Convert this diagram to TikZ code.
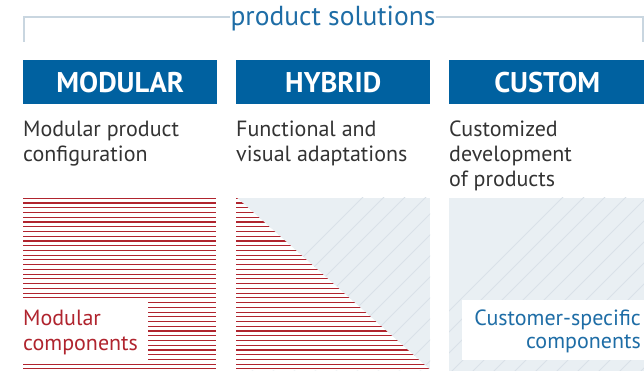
\documentclass[tikz,border=0pt]{standalone}
\usepackage{fontspec}
\setmainfont{PT Sans}
\definecolor{hblue}{HTML}{0061A0}
\definecolor{tblue}{HTML}{1E6DA6}
\definecolor{dred}{HTML}{B0242E}
\definecolor{txtgray}{HTML}{333333}
\definecolor{bgpale}{HTML}{E9EFF3}
\definecolor{stripe}{HTML}{D9E1E8}
\definecolor{brack}{HTML}{C9D6E0}
\tikzset{
  headbox/.style={fill=hblue, text=white, font=\bfseries\fontsize{28.5}{32}\selectfont, minimum width=194pt, minimum height=44pt, inner sep=0pt, anchor=north west},
  subtxt/.style={text=txtgray, font=\fontsize{22}{25}\selectfont, align=left, inner sep=0pt, anchor=base west},
  redline/.style={draw=dred, line width=1.1pt},
  stripeline/.style={draw=stripe, line width=1pt},
}
\begin{document}
\begin{tikzpicture}[x=1pt,y=-1pt]
\useasboundingbox (0,0) rectangle (644,371);
% bracket
\node[text=tblue, font=\fontsize{27.5}{30}\selectfont, inner sep=0pt] (title) at (333,19) {product solutions};
\coordinate (bl) at (24,42);
\coordinate (br) at (643,42);
\coordinate (blt) at (24,17);
\coordinate (brt) at (643,17);
\draw[brack, line width=1.4pt] (bl) -- (blt) -- (blt -| title.west);
\draw[brack, line width=1.4pt] (br) -- (brt) -- (brt -| title.east);
% header boxes
\node[headbox] (mod) at (23,60) {MODULAR};
\node[headbox] (hyb) at (236,60) {HYBRID};
\node[headbox, minimum width=196pt] (cus) at (449,60) {CUSTOM};
% subtitles (anchor = baseline of last line)
\node[subtxt] (s1) at (23,162) {Modular product\\configuration};
\node[subtxt] (s2) at (236,162) {Functional and\\visual adaptations};
\node[subtxt] (s3) at (449,187) {Customized\\development\\of products};
% panel 1
\foreach \i in {0,...,36}{
  \draw[redline] (23,198.3+4.74*\i) -- (216,198.3+4.74*\i);
}
\fill[white] (23,299.5) rectangle (148,361.5);
\node[subtxt, text=dred] (lab1) at (23,350) {Modular\\components};
% panel 2
\fill[bgpale] (236,198) rectangle (430,370);
\begin{scope}
\clip (236,198) rectangle (430,370);
\foreach \i in {0,...,22}{
  \draw[stripeline] (180+21*\i,380) -- (180+21*\i+200,180);
}
\end{scope}
\begin{scope}
\clip (236,197) -- (236,370.5) -- (431,370.5) -- cycle;
\fill[white] (236,197) -- (236,370.5) -- (431,370.5) -- cycle;
\foreach \i in {0,...,36}{
  \draw[redline] (236,198.3+4.74*\i) -- (430,198.3+4.74*\i);
}
\end{scope}
% panel 3
\fill[bgpale] (449,198) rectangle (644,371);
\begin{scope}
\clip (449,198) rectangle (644,371);
\foreach \i in {0,...,22}{
  \draw[stripeline] (380+21*\i,380) -- (380+21*\i+200,180);
}
\end{scope}
\fill[white] (462,300) rectangle (644,360);
\node[subtxt, text=tblue, align=right, anchor=base east, font=\fontsize{22}{23}\selectfont] (lab3) at (641,348) {Customer-specific\\components};
\end{tikzpicture}
\end{document}
